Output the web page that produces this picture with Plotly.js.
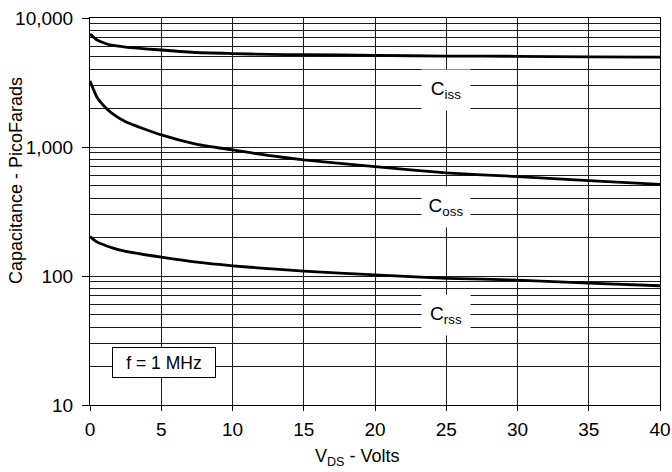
<!DOCTYPE html>
<html>
<head>
<meta charset="utf-8">
<script src="https://cdn.plot.ly/plotly-3.0.1.min.js"></script>
<style>html,body{margin:0;padding:0;background:#fff;}#chart{width:672px;height:472px;}</style>
</head>
<body>
<div id="chart"></div>
<script>
// Data
const vds  = [0, 0.5, 1, 1.5, 2.5, 5, 7.5, 10, 12.5, 15, 20, 25, 30, 35, 40];
const ciss = [7500, 6750, 6400, 6150, 5950, 5650, 5400, 5300, 5220, 5200, 5130, 5070, 5050, 5000, 4980];
const coss = [3250, 2420, 2070, 1840, 1570, 1240, 1050, 950, 860, 795, 705, 630, 590, 548, 514];
const crss = [202, 183, 174, 166, 155, 140, 128, 120, 114, 109, 102, 96, 93, 88, 84];

const xTicks = [0, 5, 10, 15, 20, 25, 30, 35, 40];
const yTickVals = [10, 100, 1000, 10000];
const yTickText = ["10", "100", "1,000", "10,000"];
const yMinorVals = [20,30,40,50,60,70,80,90,200,300,400,500,600,700,800,900,2000,3000,4000,5000,6000,7000,8000,9000];

const seriesLabels = ["C<sub>iss</sub>", "C<sub>oss</sub>", "C<sub>rss</sub>"];
const labelX = 25;
const labelY = [2770, 343, 50];
const noteText = "f = 1 MHz";
const xTitle = "V<sub>DS</sub> - Volts";
const yTitle = "Capacitance - PicoFarads";

const FONT = "Liberation Sans, Arial, sans-serif";
const GRID = "#1a1a1a";

function curve(y) {
  return {x: vds, y: y, type: "scatter", mode: "lines",
          line: {color: "#000", width: 2.8, shape: "spline", smoothing: 0.5},
          hoverinfo: "skip", showlegend: false};
}

const W = 672, H = 472, L = 90, R = 12, T = 18, B = 67;
const pw = W - L - R, ph = H - T - B;

const annotations = seriesLabels.map((t, i) => ({
  x: labelX, y: Math.log10(labelY[i]), xref: "x", yref: "y",
  text: t, showarrow: false, bgcolor: "#fff", width: 46, height: 38,
  font: {family: FONT, size: 19, color: "#000"}
}));
annotations.push({
  x: 5.2, y: Math.log10(21.5), xref: "x", yref: "y",
  text: noteText, showarrow: false, bgcolor: "#fff",
  bordercolor: "#000", borderwidth: 1, width: 100, height: 27,
  font: {family: FONT, size: 17.5, color: "#000"}
});
annotations.push({
  x: (357 - L) / pw, y: (H - B - 457) / ph, xref: "paper", yref: "paper",
  xanchor: "center", yanchor: "middle", text: xTitle, showarrow: false,
  font: {family: FONT, size: 18, color: "#000"}
});
annotations.push({
  x: (16 - L) / pw, y: (H - B - 181) / ph, xref: "paper", yref: "paper",
  xanchor: "center", yanchor: "middle", text: yTitle, showarrow: false,
  textangle: -90, font: {family: FONT, size: 18, color: "#000"}
});

const layout = {
  width: W, height: H,
  margin: {l: L, r: R, t: T, b: B, pad: 0},
  paper_bgcolor: "#fff", plot_bgcolor: "#fff",
  font: {family: FONT, size: 18, color: "#000"},
  showlegend: false,
  xaxis: {
    range: [0, 40], tickvals: xTicks, ticks: "outside", ticklen: 5, tickcolor: "#000",
    showgrid: true, gridcolor: GRID, gridwidth: 1, zeroline: false,
    showline: true, linecolor: "#000", linewidth: 1, mirror: true,
    tickfont: {family: FONT, size: 19, color: "#000"}, ticklabelstandoff: 2
  },
  yaxis: {
    type: "log", range: [1, 4], tickvals: yTickVals, ticktext: yTickText,
    ticks: "outside", ticklen: 7, tickcolor: "#000",
    showgrid: true, gridcolor: GRID, gridwidth: 1, zeroline: false,
    showline: true, linecolor: "#000", linewidth: 1, mirror: true,
    tickfont: {family: FONT, size: 19, color: "#000"}, ticklabelstandoff: 5,
    minor: {tickmode: "array", tickvals: yMinorVals, showgrid: true, gridcolor: GRID, gridwidth: 1, ticks: ""}
  },
  annotations: annotations
};

Plotly.newPlot("chart", [curve(ciss), curve(coss), curve(crss)], layout, {staticPlot: true, displayModeBar: false});
</script>
</body>
</html>
